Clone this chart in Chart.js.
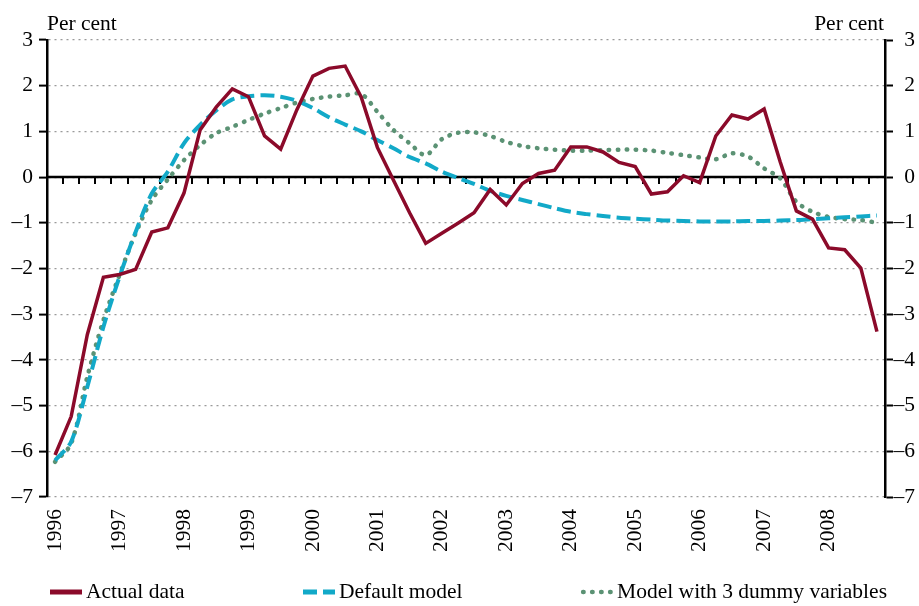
<!DOCTYPE html>
<html>
<head>
<meta charset="utf-8">
<script src="https://cdn.jsdelivr.net/npm/chart.js@4/dist/chart.umd.min.js"></script>
<style>
  html, body { margin: 0; padding: 0; background: #fff; }
  #wrap { width: 919px; height: 606px; }
</style>
</head>
<body>
<div id="wrap"><canvas id="chart" width="919" height="606"></canvas></div>
<script>
// categories: quarterly, 1996 Q1 - 2008 Q4
const years = [1996, 1997, 1998, 1999, 2000, 2001, 2002, 2003, 2004, 2005, 2006, 2007, 2008];
const quarters = [];
years.forEach(y => { for (let q = 1; q <= 4; q++) quarters.push(y + ' Q' + q); });

// series (per cent)
const actualData = [-6.08, -5.24, -3.45, -2.19, -2.13, -2.02, -1.2, -1.11, -0.35, 1.03,
  1.53, 1.93, 1.76, 0.9, 0.61, 1.47, 2.21, 2.38, 2.43, 1.75,
  0.65, -0.07, -0.78, -1.45, -1.23, -1.01, -0.78, -0.27, -0.61, -0.14,
  0.08, 0.15, 0.66, 0.66, 0.55, 0.32, 0.23, -0.37, -0.32, 0.03,
  -0.12, 0.9, 1.36, 1.27, 1.49, 0.33, -0.74, -0.92, -1.55, -1.59,
  -1.99, -3.38];
const defaultModel = [-6.2, -5.79, -4.59, -3.28, -2.18, -1.2, -0.36, 0.12, 0.74, 1.14,
  1.46, 1.7, 1.77, 1.79, 1.76, 1.67, 1.51, 1.31, 1.15, 1.0,
  0.81, 0.63, 0.44, 0.3, 0.12, -0.02, -0.15, -0.3, -0.41, -0.5,
  -0.59, -0.68, -0.76, -0.81, -0.85, -0.89, -0.91, -0.93, -0.95, -0.96,
  -0.97, -0.97, -0.97, -0.96, -0.96, -0.95, -0.94, -0.92, -0.9, -0.88,
  -0.86, -0.84];
const dummyModel = [-6.23, -5.83, -4.37, -3.13, -2.14, -1.23, -0.5, -0.05, 0.37, 0.7,
  0.96, 1.1, 1.25, 1.39, 1.51, 1.63, 1.71, 1.76, 1.79, 1.82,
  1.43, 1.03, 0.74, 0.48, 0.83, 0.97, 0.98, 0.9, 0.77, 0.68,
  0.63, 0.6, 0.58, 0.58, 0.59, 0.6, 0.6, 0.58, 0.53, 0.48,
  0.43, 0.39, 0.52, 0.45, 0.19, -0.03, -0.54, -0.76, -0.87, -0.92,
  -0.94, -1.0];

// axis range
const yMin = -7, yMax = 3, yStep = 1;
const unitLabel = 'Per cent';

const serif = "'Liberation Serif', 'DejaVu Serif', serif";
const fontSize = 21.5;

function fmtTick(v) {
    return v < 0 ? '\u2013' + Math.abs(v) : String(v);
}

// zero line with quarter ticks, "Per cent" labels and the legend
const decor = {
    id: 'decor',
    beforeDatasetsDraw(chart) {
        const { ctx, chartArea, scales } = chart;
        const y0 = scales.y.getPixelForValue(0);
        ctx.save();
        ctx.strokeStyle = '#000';
        ctx.lineWidth = 2.5;
        ctx.beginPath();
        ctx.moveTo(chartArea.left, y0);
        ctx.lineTo(chartArea.right, y0);
        ctx.stroke();
        ctx.lineWidth = 2;
        ctx.beginPath();
        for (let i = 1; i < quarters.length; i++) {
            const x = Math.round((scales.x.getPixelForValue(i - 1) + scales.x.getPixelForValue(i)) / 2);
            ctx.moveTo(x, y0);
            ctx.lineTo(x, y0 + 7);
        }
        ctx.stroke();
        ctx.restore();
    },
    afterDraw(chart) {
        const { ctx, chartArea } = chart;
        ctx.save();
        ctx.fillStyle = '#000';
        ctx.font = fontSize + 'px ' + serif;
        ctx.textBaseline = 'middle';
        ctx.textAlign = 'left';
        ctx.fillText(unitLabel, chartArea.left, 24);
        ctx.textAlign = 'right';
        ctx.fillText(unitLabel, chartArea.right - 1, 24);

        // legend
        const items = chart.data.datasets;
        const markW = 32, gap = 4;
        const widths = items.map(ds => markW + gap + ctx.measureText(ds.label).width);
        const left = chartArea.left + 3, right = chartArea.right + 2;
        const spare = (right - left - widths.reduce((a, b) => a + b, 0)) / (items.length - 1);
        let x = left;
        const y = 592;
        ctx.textAlign = 'left';
        items.forEach((ds, i) => {
            ctx.save();
            ctx.strokeStyle = ds.borderColor;
            ctx.lineWidth = ds.legendWidth;
            ctx.lineCap = ds.borderCapStyle || 'butt';
            ctx.setLineDash(ds.borderDash || []);
            ctx.beginPath();
            ctx.moveTo(x + (ds.borderCapStyle === 'round' ? 2 : 0), y);
            ctx.lineTo(x + markW, y);
            ctx.stroke();
            ctx.restore();
            ctx.fillText(ds.label, x + markW + gap, y);
            x += widths[i] + spare;
        });
        ctx.restore();
    }
};

const ctx = document.getElementById('chart').getContext('2d');
const chart = new Chart(ctx, {
    type: 'line',
    data: {
        labels: quarters,
        datasets: [{
            label: 'Actual data',
            data: actualData,
            borderColor: '#8b0a2a',
            borderWidth: 3.5,
            legendWidth: 5,
            pointRadius: 0,
            tension: 0,
            yAxisID: 'y'
        }, {
            label: 'Default model',
            data: defaultModel,
            borderColor: '#12a9c8',
            borderWidth: 4,
            legendWidth: 5,
            borderDash: [14, 6],
            pointRadius: 0,
            tension: 0.3,
            yAxisID: 'y'
        }, {
            label: 'Model with 3 dummy variables',
            data: dummyModel,
            borderColor: '#5b9274',
            borderWidth: 4.5,
            legendWidth: 4.5,
            borderDash: [0.5, 8.5],
            borderCapStyle: 'round',
            pointRadius: 0,
            tension: 0.3,
            yAxisID: 'y'
        }]
    },
    options: {
        responsive: false,
        animation: false,
        devicePixelRatio: 1,
        layout: { padding: { top: 40, right: 4, bottom: 39, left: 0 } },
        plugins: {
            legend: { display: false },
            tooltip: { enabled: false }
        },
        scales: {
            x: {
                offset: true,
                grid: { display: false, drawTicks: false },
                border: { display: false },
                ticks: {
                    autoSkip: false,
                    maxRotation: 90,
                    minRotation: 90,
                    padding: 12,
                    color: '#000',
                    font: { family: serif, size: fontSize },
                    callback: (v, i) => (i % 4 === 0 ? String(years[i / 4]) : '')
                },
                afterFit: s => { s.height = 70; }
            },
            y: {
                position: 'left',
                min: yMin,
                max: yMax,
                ticks: {
                    stepSize: yStep,
                    padding: 6,
                    color: '#000',
                    font: { family: serif, size: fontSize },
                    callback: fmtTick
                },
                grid: {
                    color: '#9a9a9a',
                    lineWidth: 1.2,
                    tickLength: 8,
                    tickColor: '#000',
                    tickWidth: 2
                },
                border: { color: '#000', width: 2.5, dash: [2, 4] },
                afterFit: s => { s.width = 47; }
            },
            y2: {
                position: 'right',
                min: yMin,
                max: yMax,
                ticks: {
                    stepSize: yStep,
                    padding: 4,
                    crossAlign: 'far',
                    color: '#000',
                    font: { family: serif, size: fontSize },
                    callback: fmtTick
                },
                grid: {
                    drawOnChartArea: false,
                    tickLength: 8,
                    tickColor: '#000',
                    tickWidth: 2
                },
                border: { color: '#000', width: 2.5 },
                afterFit: s => { s.width = 30; }
            }
        }
    },
    plugins: [decor]
});
</script>
</body>
</html>
